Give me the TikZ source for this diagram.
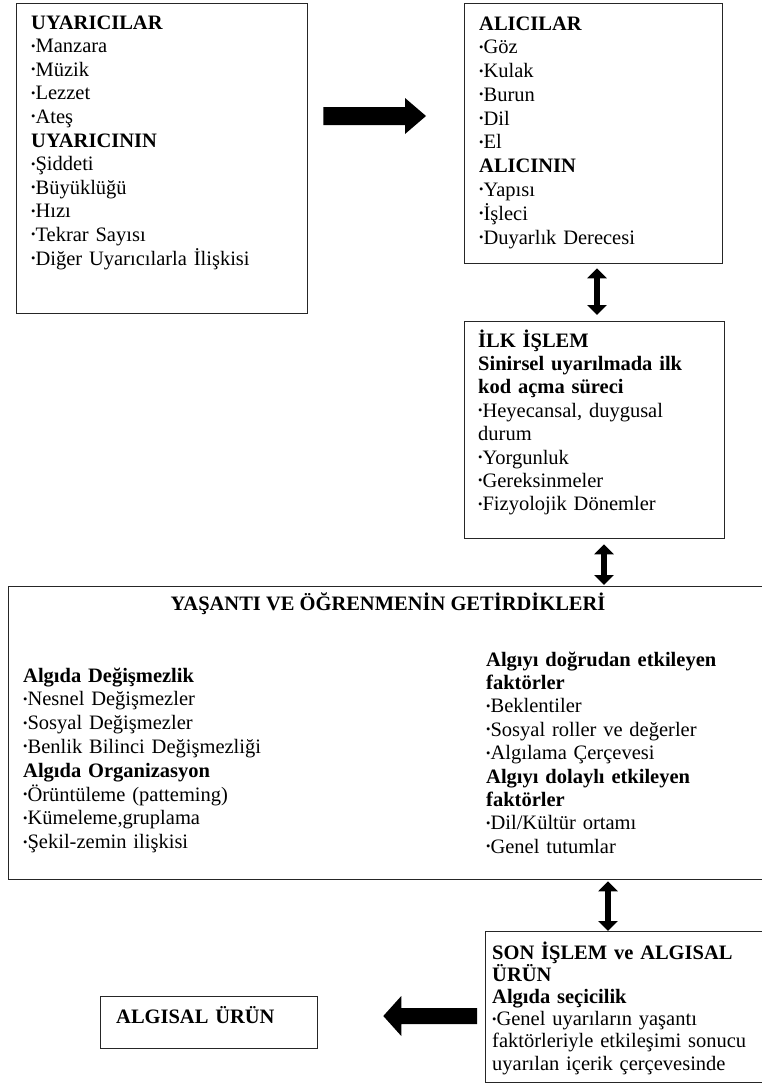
\documentclass[tikz,border=0pt]{standalone}
\usepackage{fontspec}
\setmainfont{Liberation Serif}
\usetikzlibrary{calc,arrows.meta}
\newcommand\bt{\raisebox{2.6pt}{\fontsize{12.5pt}{12.5pt}\selectfont •}}
\tikzset{
  box/.style={draw=black!85, line width=1.3pt, inner sep=0pt, anchor=north west},
  txt/.style={anchor=base west, inner sep=0pt, align=left, text width=#1,
    font={\fontsize{20.5pt}{23.6pt}\selectfont\lineskiplimit=-20pt}},
  dbl/.style={line width=6pt, {Triangle[width=19pt,length=10pt]}-{Triangle[width=19pt,length=10pt]}},
  blk/.style={fill=black}
}
\begin{document}
\begin{tikzpicture}[x=1pt,y=-1pt]
\useasboundingbox (0,0) rectangle (761,1084);
% boxes
\node[box, minimum width=291pt, minimum height=310pt] (b1) at (16,3) {};
\node[box, minimum width=258pt, minimum height=260pt] (b2) at (464,3) {};
\node[box, minimum width=260pt, minimum height=217pt] (b3) at (464,321) {};
\node[box, minimum width=756pt, minimum height=293pt] (b4) at (8,586) {};
\node[box, minimum width=279pt, minimum height=151pt] (b5) at (485,931) {};
\node[box, minimum width=217pt, minimum height=52pt] (b6) at (100,996) {};
% texts
\node[txt=275pt] (t1) at ($(b1.north west)+(15,26)$) {\textbf{UYARICILAR}\\
\bt Manzara\\ \bt Müzik\\ \bt Lezzet\\ \bt Ateş\\
\textbf{UYARICININ}\\
\bt Şiddeti\\ \bt Büyüklüğü\\ \bt Hızı\\ \bt Tekrar Sayısı\\ \bt Diğer Uyarıcılarla İlişkisi};
\node[txt=240pt, font={\fontsize{20.5pt}{23.8pt}\selectfont\lineskiplimit=-20pt}] (t2) at ($(b2.north west)+(15,27)$) {\textbf{ALICILAR}\\
\bt Göz\\ \bt Kulak\\ \bt Burun\\ \bt Dil\\ \bt El\\
\textbf{ALICININ}\\
\bt Yapısı\\ \bt İşleci\\ \bt Duyarlık Derecesi};
\node[txt=245pt, font={\fontsize{20.5pt}{23.4pt}\selectfont\lineskiplimit=-20pt}] (t3) at ($(b3.north west)+(14,26)$) {\textbf{İLK İŞLEM}\\
\textbf{Sinirsel uyarılmada ilk}\\ \textbf{kod açma süreci}\\
\bt Heyecansal, duygusal\\ durum\\ \bt Yorgunluk\\ \bt Gereksinmeler\\ \bt Fizyolojik Dönemler};
\node[anchor=base, inner sep=0pt, font={\fontsize{20.5pt}{23.6pt}\selectfont}] (t4) at ($(b4.north west)+(380,24)$) {\textbf{YAŞANTI VE ÖĞRENMENİN GETİRDİKLERİ}};
\node[txt=330pt, font={\fontsize{20.5pt}{23.8pt}\selectfont\lineskiplimit=-20pt}] (t5) at ($(b4.north west)+(15,96)$) {\textbf{Algıda Değişmezlik}\\
\bt Nesnel Değişmezler\\ \bt Sosyal Değişmezler\\ \bt Benlik Bilinci Değişmezliği\\
\textbf{Algıda Organizasyon}\\
\bt Örüntüleme (patteming)\\ \bt Kümeleme,gruplama\\ \bt Şekil-zemin ilişkisi};
\node[txt=270pt, font={\fontsize{20.5pt}{23.4pt}\selectfont\lineskiplimit=-20pt}] (t6) at ($(b4.north west)+(478,80)$) {\textbf{Algıyı doğrudan etkileyen}\\
\textbf{faktörler}\\
\bt Beklentiler\\ \bt Sosyal roller ve değerler\\ \bt Algılama Çerçevesi\\
\textbf{Algıyı dolaylı etkileyen}\\ \textbf{faktörler}\\
\bt Dil/Kültür ortamı\\ \bt Genel tutumlar};
\node[txt=265pt, font={\fontsize{20.5pt}{22.2pt}\selectfont\lineskiplimit=-20pt}] (t7) at ($(b5.north west)+(7,28)$) {\textbf{SON İŞLEM ve ALGISAL}\\
\textbf{ÜRÜN}\\
\textbf{Algıda seçicilik}\\
\bt Genel uyarıların yaşantı\\ faktörleriyle etkileşimi sonucu\\ uyarılan içerik çerçevesinde};
\node[txt=200pt] (t8) at ($(b6.north west)+(16,27)$) {\textbf{ALGISAL ÜRÜN}};
% double arrows
\draw[dbl] ($(b2.south west)+(133,4)$) -- ($(b3.north west)+(133,-6)$);
\draw[dbl] ($(b3.south west)+(140,5)$) -- ($(b4.north west)+(596,-1)$);
\draw[dbl] ($(b4.south west)+(600,1)$) -- ($(b5.north west)+(123,0)$);
% block arrow right
\coordinate (ra) at ($(b1.north east)+(15,113)$);
\coordinate (rb) at ($(b2.north west)+(-38,113)$);
\fill[blk] ($(ra)+(0,-9)$) -- ($(rb)+(-21,-9)$) -- ($(rb)+(-21,-18)$) -- (rb)
  -- ($(rb)+(-21,18)$) -- ($(rb)+(-21,9)$) -- ($(ra)+(0,9)$) -- cycle;
% block arrow left
\coordinate (la) at ($(b5.north west)+(-8,85)$);
\coordinate (lb) at ($(b6.north east)+(65,20)$);
\fill[blk] ($(la)+(0,-8)$) -- ($(lb)+(18,-8)$) -- ($(lb)+(18,-20)$) -- (lb)
  -- ($(lb)+(18,20)$) -- ($(lb)+(18,8)$) -- ($(la)+(0,8)$) -- cycle;
\end{tikzpicture}
\end{document}
